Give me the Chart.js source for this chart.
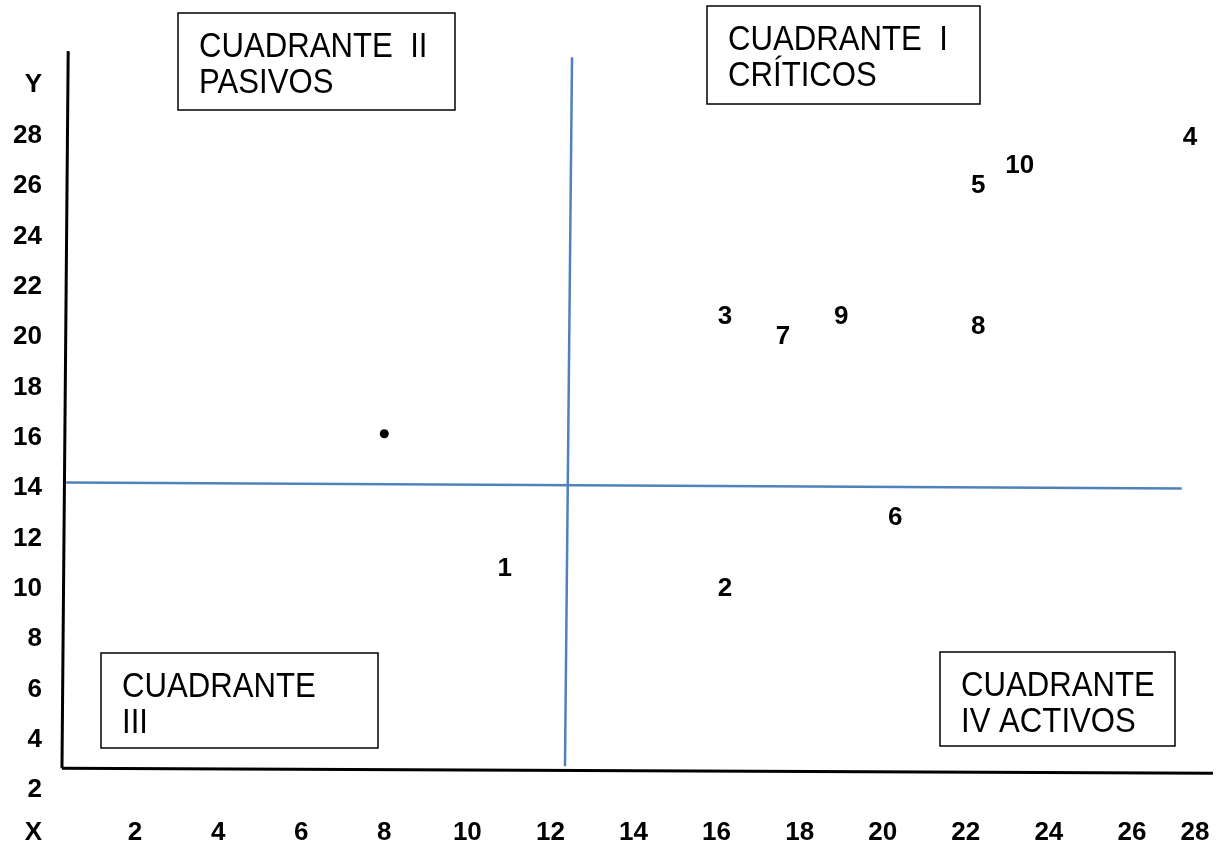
<!DOCTYPE html>
<html>
<head>
<meta charset="utf-8">
<script src="https://cdn.jsdelivr.net/npm/chart.js@4/dist/chart.umd.min.js"></script>
<style>
  html, body { margin: 0; padding: 0; background: #fff; }
  #wrap { width: 1225px; height: 841px; position: relative; }
</style>
</head>
<body>
<div id="wrap"><canvas id="c"></canvas></div>
<script>
// point ids and their (x, y)
const pointLabels = ['1', '2', '3', '4', '5', '6', '7', '8', '9', '10'];
const pointX = [10.9, 16.2, 16.2, 27.4, 22.3, 20.3, 17.6, 22.3, 19.0, 23.3];
const pointY = [10.8, 10.0, 20.8, 27.9, 26.0, 12.8, 20.0, 20.4, 20.8, 26.8];

// lone unlabelled dot
const dotX = [8];
const dotY = [16];

// tick labels
const xTicks = [2, 4, 6, 8, 10, 12, 14, 16, 18, 20, 22, 24, 26, 28];
const yTicks = [2, 4, 6, 8, 10, 12, 14, 16, 18, 20, 22, 24, 26, 28];

// hand-drawn axes and quadrant dividers, in data units
const axisYLine = [[0.39, 31.2], [0.24, 2.71]];
const axisXLine = [[0.24, 2.71], [27.95, 2.51]];
const splitV = [[12.52, 30.96], [12.35, 2.79]];
const splitH = [[0.34, 14.06], [27.2, 13.82]];

// quadrant captions
const quadrants = [
  { lines: ['CUADRANTE  II', 'PASIVOS'], box: [178, 13, 455, 110] },
  { lines: ['CUADRANTE  I', 'CRÍTICOS'], box: [707, 6, 980, 104] },
  { lines: ['CUADRANTE', 'III'], box: [101, 653, 378, 748] },
  { lines: ['CUADRANTE', 'IV ACTIVOS'], box: [940, 652, 1175, 746] },
];

const toXY = pts => pts.map(p => ({ x: p[0], y: p[1] }));
const FONT = '"Liberation Sans", Arial, sans-serif';
const BLUE = '#4F81BD';

const lineSet = (pts, color, width) => ({
  type: 'line', data: toXY(pts), borderColor: color, borderWidth: width,
  pointRadius: 0, fill: false, tension: 0, clip: false, order: 1,
});

const overlay = {
  id: 'overlay',
  afterDatasetsDraw(chart) {
    const { ctx, scales: { x, y } } = chart;
    ctx.save();
    ctx.fillStyle = '#000';
    ctx.textBaseline = 'middle';

    // numbered points (digits sit a bit high with 'middle', nudge down)
    ctx.font = 'bold 26px ' + FONT;
    ctx.textAlign = 'center';
    pointLabels.forEach((t, i) => {
      ctx.fillText(t, x.getPixelForValue(pointX[i]), y.getPixelForValue(pointY[i]) + 4);
    });

    // tick labels
    ctx.font = 'bold 26px ' + FONT;
    ctx.textAlign = 'right';
    yTicks.forEach(v => ctx.fillText(String(v), 42, y.getPixelForValue(v) + 4));
    ctx.fillText('Y', 42, 85);
    ctx.fillText('X', 42, 833);
    ctx.textAlign = 'center';
    xTicks.forEach(v => {
      const px = Math.min(x.getPixelForValue(v), chart.width - 30);
      ctx.fillText(String(v), px, 833);
    });

    // quadrant boxes, slightly condensed text
    ctx.font = '35px ' + FONT;
    ctx.textAlign = 'left';
    ctx.textBaseline = 'alphabetic';
    ctx.strokeStyle = '#000';
    ctx.lineWidth = 1.5;
    quadrants.forEach(q => {
      const [x0, y0, x1, y1] = q.box;
      ctx.strokeRect(x0, y0, x1 - x0, y1 - y0);
      q.lines.forEach((t, i) => {
        ctx.save();
        ctx.translate(x0 + 21, y0 + 44 + i * 36);
        ctx.scale(0.89, 1);
        ctx.fillText(t, 0, 0);
        ctx.restore();
      });
    });
    ctx.restore();
  }
};

new Chart(document.getElementById('c'), {
  type: 'scatter',
  data: {
    datasets: [
      lineSet(axisYLine, '#000', 3),
      lineSet(axisXLine, '#000', 3),
      lineSet(splitV, BLUE, 2.5),
      lineSet(splitH, BLUE, 2.5),
      {
        data: pointX.map((v, i) => ({ x: v, y: pointY[i] })),
        pointRadius: 0, order: 0,
      },
      {
        data: dotX.map((v, i) => ({ x: v, y: dotY[i] })),
        pointRadius: 4.5, backgroundColor: '#000', borderWidth: 0, order: 0,
      },
    ],
  },
  options: {
    responsive: true, maintainAspectRatio: false, animation: false,
    layout: { padding: { left: 52, right: 10, top: 31, bottom: 0 } },
    plugins: { legend: { display: false }, tooltip: { enabled: false } },
    scales: {
      x: { type: 'linear', min: 0, max: 28, display: false },
      y: { type: 'linear', min: 0, max: 32, display: false },
    },
  },
  plugins: [overlay],
});
</script>
</body>
</html>
